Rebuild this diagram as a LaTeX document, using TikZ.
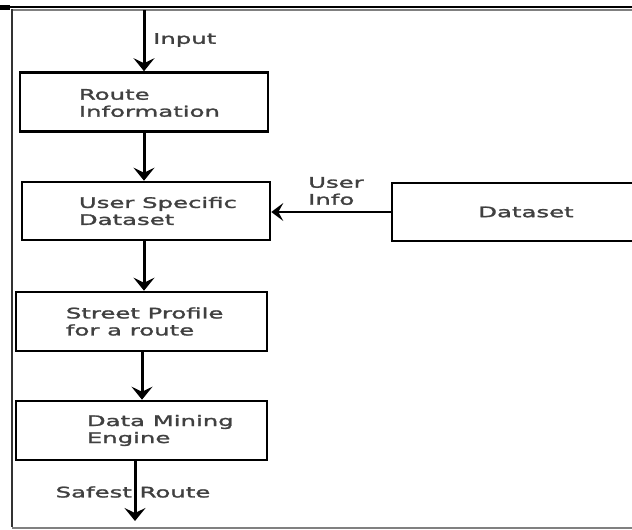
\documentclass[tikz,border=0pt]{standalone}
\usepackage{fontspec}
\usepackage{tikz}
\usetikzlibrary{arrows.meta}
\newfontfamily\flowfont[FakeStretch=1.68, FakeBold=1.8]{DejaVu Sans}

\begin{document}
\begin{tikzpicture}[
  x=1pt, y=-1pt,
  fbox/.style={draw=black, line width=2.6pt, minimum height=59pt, inner sep=0pt},
  flbl/.style={inner sep=0pt, align=left, font=\flowfont\fontsize{14.5}{17}\selectfont, text=black!75},
  farr/.style={line width=3pt, -{Stealth[length=13pt, width=21pt, inset=5pt]}},
  harr/.style={line width=2pt, -{Stealth[length=12pt, width=18pt, inset=5pt]}}
]
  \useasboundingbox (0,0) rectangle (632,530);
  \clip (0,0) rectangle (632,530);
  % page frame
  \fill[black] (0,5) rectangle (10,10);
  \draw[line width=2pt] (8,7) -- (632,7);
  \draw[gray, line width=1.5pt] (12,10) -- (632,10);
  \draw[black!80, line width=2pt] (12,9) -- (12,527);
  \draw[gray, line width=2pt] (12,527.5) -- (632,527.5);

  \node[fbox, minimum width=248pt, label={[flbl, anchor=west, xshift=60pt, yshift=-1pt]west:{Route\\Information}}] (route) at (144,102) {};
  \node[fbox, minimum width=248pt, minimum height=58pt, label={[flbl, anchor=west, xshift=58pt]west:{User Specific\\Dataset}}] (user) at (146,211) {};
  \node[fbox, minimum width=251pt, label={[flbl, anchor=west, xshift=51pt]west:{Street Profile\\for a route}}] (street) at (141.5,321.5) {};
  \node[fbox, minimum width=251pt, label={[flbl, anchor=west, xshift=72pt]west:{Data Mining\\Engine}}] (mining) at (141.5,430.5) {};
  \node[fbox, flbl, draw, minimum width=268pt, minimum height=58pt] (data) at (526,212) {Dataset};

  \coordinate (input) at (144,10);
  \coordinate (safe) at (135,521);

  \draw[farr] (input) -- (route.north);
  \draw[farr] (route.south) -- (route.south |- user.north);
  \draw[farr] (user.south -| input) -- (street.north -| input);
  \draw[farr] (street.south -| 142,0) -- (mining.north -| 142,0);
  \draw[farr] (mining.south -| safe) -- (safe);
  \draw[harr] (data.west) -- (data.west -| user.east);

  \node[flbl, anchor=west] (inlbl) at (153,40) {Input};
  \node[flbl, anchor=west] (infolbl) at (308,191) {User\\Info};
  \node[flbl] (safelbl) at (133,492) {Safest Route};
\end{tikzpicture}
\end{document}
